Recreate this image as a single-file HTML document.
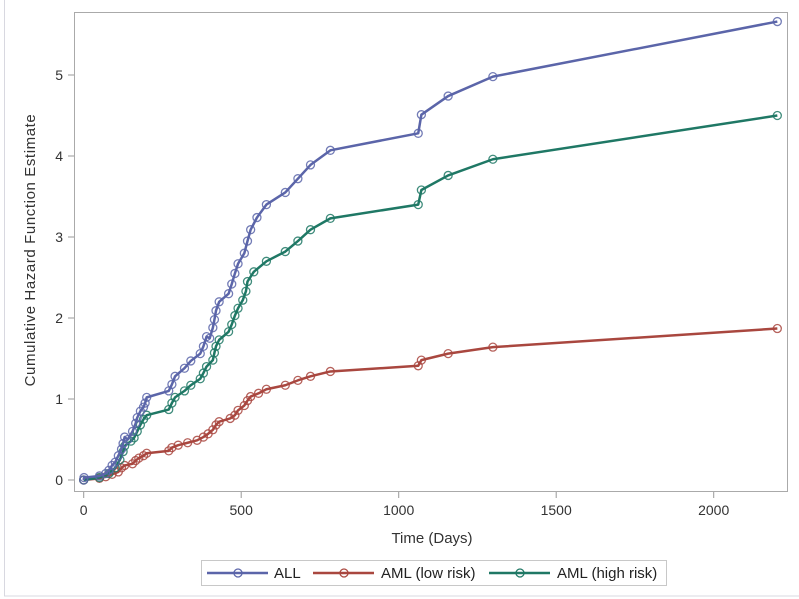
<!DOCTYPE html>
<html><head><meta charset="utf-8"><style>
body{margin:0;background:#fff;}
svg{display:block;font-family:"Liberation Sans",sans-serif;}
</style></head><body>
<svg id="chart" width="799" height="599">
<rect x="4.5" y="-1" width="800" height="597" fill="none" stroke="#d8d8e0"/>
<rect x="74.5" y="12.5" width="713" height="479" fill="none" stroke="#aaaaaa"/>
<g id="xaxis"></g>
<g id="yaxis"></g>
<text x="432" y="543" font-size="15" text-anchor="middle" fill="#333">Time (Days)</text>
<text transform="translate(35,250) rotate(-90)" font-size="15" letter-spacing="0.6" text-anchor="middle" fill="#333">Cumulative Hazard Function Estimate</text>
<g id="series"></g>
<g>
<rect x="201.5" y="560.5" width="465" height="25" fill="#fff" stroke="#c8c8c8"/>
<g><line x1="207" y1="573" x2="268" y2="573" stroke="#5b65a9" stroke-width="2.5"/><circle cx="238" cy="573" r="4" fill="none" stroke="#5b65a9" stroke-width="1.3"/><text x="274" y="578" font-size="15" fill="#222">ALL</text></g>
<g><line x1="313" y1="573" x2="374" y2="573" stroke="#a9473f" stroke-width="2.5"/><circle cx="344" cy="573" r="4" fill="none" stroke="#a9473f" stroke-width="1.3"/><text x="381" y="578" font-size="15" fill="#222">AML (low risk)</text></g>
<g><line x1="489" y1="573" x2="550" y2="573" stroke="#1f7865" stroke-width="2.5"/><circle cx="520" cy="573" r="4" fill="none" stroke="#1f7865" stroke-width="1.3"/><text x="557" y="578" font-size="15" fill="#222">AML (high risk)</text></g>
</g>
</svg>
<script>
const xTicks=[0,500,1000,1500,2000];
const yTicks=[0,1,2,3,4,5];
const allDays=[0,1,50,70,80,90,100,110,120,125,130,140,155,165,170,180,190,195,200,270,280,290,320,340,370,380,390,400,410,415,420,430,460,470,480,490,510,520,530,550,580,640,680,720,783,1062,1072,1157,1299,2202];
const allVals=[0,0.03,0.05,0.08,0.12,0.18,0.22,0.3,0.38,0.45,0.53,0.5,0.6,0.7,0.77,0.85,0.9,0.95,1.02,1.1,1.18,1.28,1.38,1.47,1.56,1.65,1.77,1.75,1.88,1.98,2.09,2.2,2.3,2.42,2.55,2.67,2.8,2.95,3.09,3.24,3.4,3.55,3.72,3.89,4.07,4.28,4.51,4.74,4.98,5.66];
const highDays=[0,50,80,100,115,125,130,150,160,170,180,190,200,270,280,290,320,340,370,380,390,410,415,420,430,460,470,480,490,505,515,520,540,580,640,680,720,783,1062,1072,1157,1299,2202];
const highVals=[0,0.03,0.08,0.15,0.25,0.35,0.42,0.48,0.52,0.6,0.68,0.75,0.8,0.87,0.95,1.02,1.1,1.17,1.25,1.32,1.4,1.48,1.57,1.65,1.73,1.83,1.92,2.03,2.12,2.22,2.33,2.45,2.57,2.7,2.82,2.95,3.09,3.23,3.4,3.58,3.76,3.96,4.5];
const lowDays=[0,50,70,90,110,120,130,155,165,175,190,200,270,280,300,330,360,380,395,410,420,430,465,480,490,510,520,530,555,580,640,680,720,783,1062,1072,1157,1299,2202];
const lowVals=[0,0.02,0.04,0.07,0.1,0.15,0.18,0.2,0.24,0.27,0.3,0.33,0.36,0.4,0.43,0.46,0.49,0.53,0.57,0.62,0.68,0.72,0.76,0.8,0.86,0.92,0.98,1.03,1.07,1.12,1.17,1.23,1.28,1.34,1.41,1.48,1.56,1.64,1.87];
const NS="http://www.w3.org/2000/svg";
function xs(d){return 83.7+d*0.315;}
function ys(v){return 480-v*81;}
const xg=document.getElementById('xaxis'),yg=document.getElementById('yaxis'),sg=document.getElementById('series');
function mk(t,a,p){const e=document.createElementNS(NS,t);for(const k in a)e.setAttribute(k,a[k]);p.appendChild(e);return e;}
xTicks.forEach(t=>{
const l=mk('line',{x1:xs(t),x2:xs(t),y1:492,y2:498,stroke:'#999'},xg);


const tx=mk('text',{x:xs(t),y:515,'font-size':14,'text-anchor':'middle',fill:'#333'},xg);tx.textContent=t;


});
yTicks.forEach(t=>{
const l=mk('line',{x1:68,x2:74,y1:ys(t),y2:ys(t),stroke:'#999'},yg);


const tx=mk('text',{x:63,y:ys(t)+5,'font-size':14,'text-anchor':'end',fill:'#333'},yg);tx.textContent=t;


});
function series(days,vals,color,name){
const g=mk('g',{},sg);


const pts=days.map((d,i)=>xs(d)+','+ys(vals[i])).join(' ');
const pl=mk('polyline',{points:pts,fill:'none',stroke:color,'stroke-width':2.5,'stroke-linejoin':'round'},g);


days.forEach((d,i)=>{
const c=mk('circle',{cx:xs(d),cy:ys(vals[i]),r:4,fill:'none',stroke:color,'stroke-width':1.3,'stroke-opacity':0.85},g);


});
}
series(lowDays,lowVals,'#a9473f','aml-low-risk');
series(highDays,highVals,'#1f7865','aml-high-risk');
series(allDays,allVals,'#5b65a9','all');
</script>
</body></html>
